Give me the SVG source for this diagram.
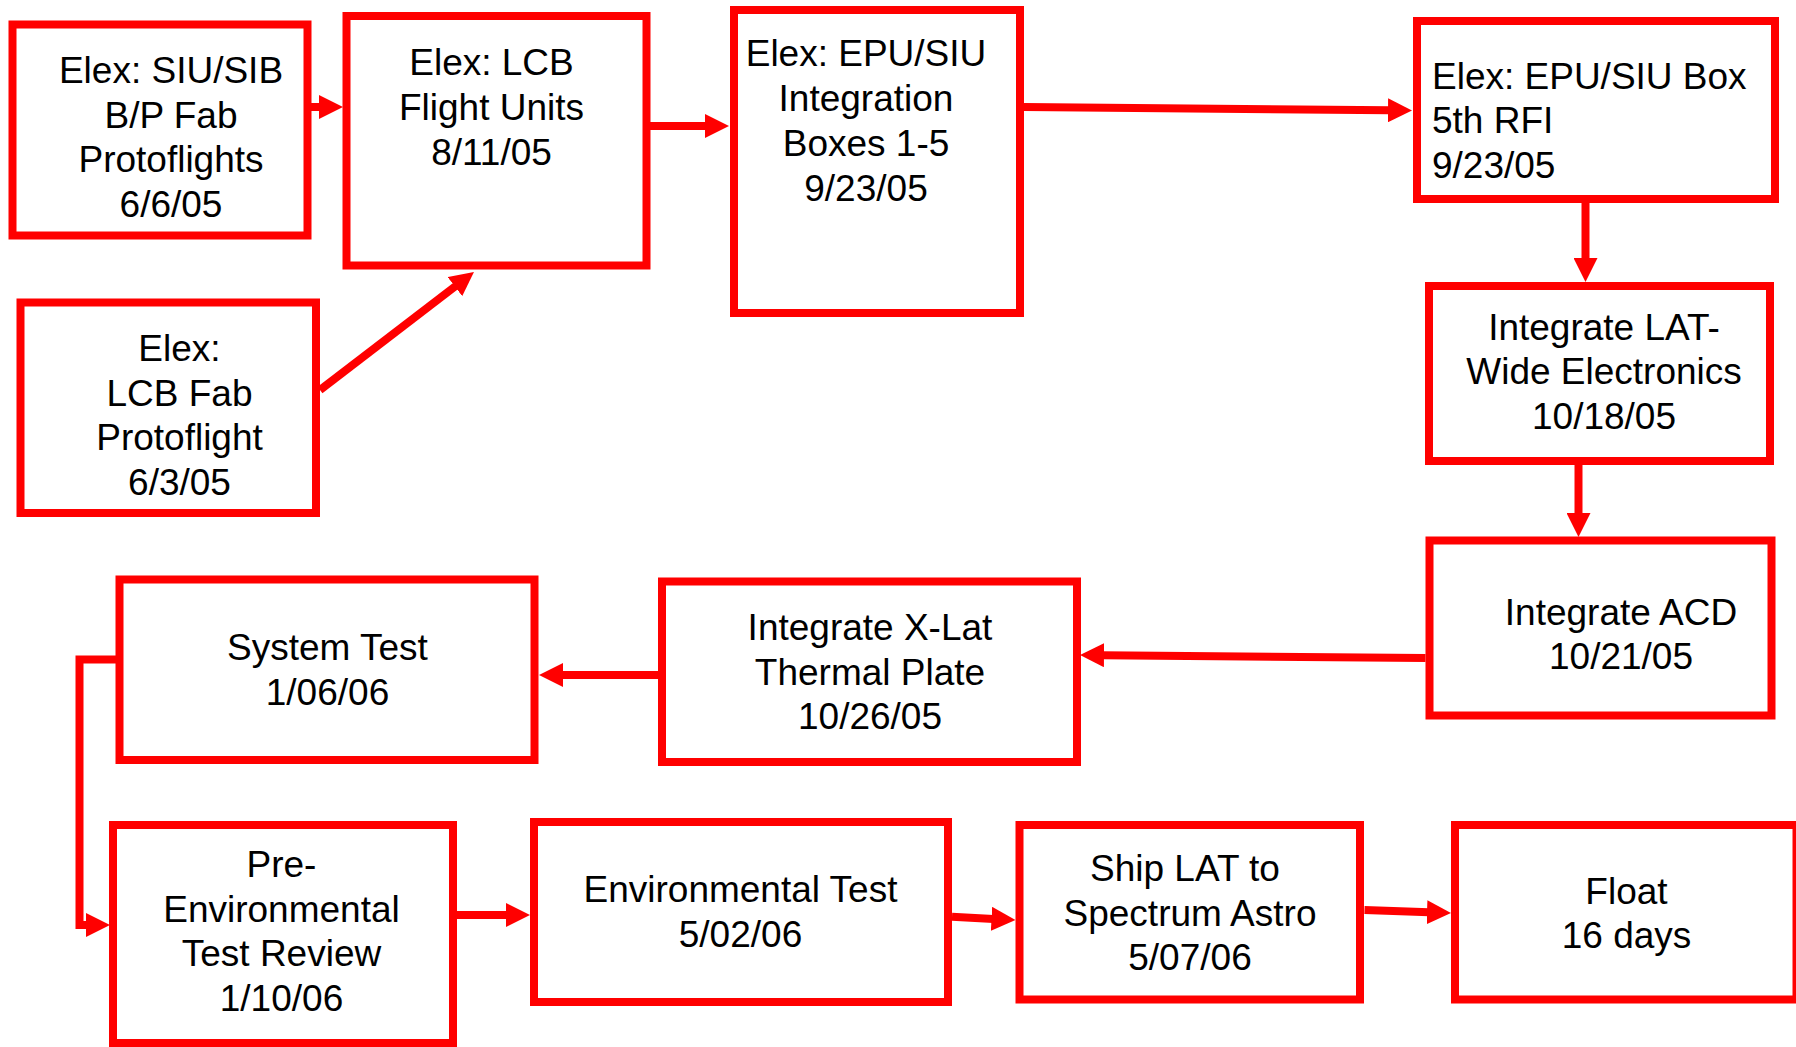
<svg xmlns="http://www.w3.org/2000/svg" width="1796" height="1047" viewBox="0 0 1796 1047">
<style>
.box{fill:#fff;stroke:#ff0000;stroke-width:8}
.t{font-family:"Liberation Sans",Arial,sans-serif;font-size:37px;fill:#000;text-anchor:middle}
.tl{font-family:"Liberation Sans",Arial,sans-serif;font-size:37px;fill:#000;text-anchor:start}
.c{fill:none;stroke:#ff0000;stroke-width:8;marker-end:url(#ah)}
</style>
<defs>
<marker id="ah" viewBox="0 0 24 24" refX="2" refY="12" markerWidth="24" markerHeight="24" markerUnits="userSpaceOnUse" orient="auto">
<path d="M0,0 L24,12 L0,24 Z" fill="#ff0000"/>
</marker>
</defs>
<rect width="1796" height="1047" fill="#fff"/>
<g id="n1"><rect class="box" x="12.5" y="24.5" width="295" height="211"/>
<text class="t" x="171" y="83">Elex: SIU/SIB</text><text class="t" x="171" y="127.5">B/P Fab</text><text class="t" x="171" y="172">Protoflights</text><text class="t" x="171" y="216.5">6/6/05</text></g>
<g id="n2"><rect class="box" x="346.5" y="16" width="300" height="249.5"/>
<text class="t" x="491.5" y="75">Elex: LCB</text><text class="t" x="491.5" y="120">Flight Units</text><text class="t" x="491.5" y="164.5">8/11/05</text></g>
<g id="n3"><rect class="box" x="20.5" y="302.5" width="295.5" height="210.5"/>
<text class="t" x="179.5" y="361">Elex:</text><text class="t" x="179.5" y="405.5">LCB Fab</text><text class="t" x="179.5" y="450">Protoflight</text><text class="t" x="179.5" y="494.5">6/3/05</text></g>
<g id="n4"><rect class="box" x="734" y="10" width="286" height="303"/>
<text class="t" x="866" y="66">Elex: EPU/SIU</text><text class="t" x="866" y="111">Integration</text><text class="t" x="866" y="156">Boxes 1-5</text><text class="t" x="866" y="201">9/23/05</text></g>
<g id="n5"><rect class="box" x="1417" y="21" width="358" height="178"/>
<text class="tl" x="1432" y="88.5">Elex: EPU/SIU Box</text><text class="tl" x="1432" y="132.5">5th RFI</text><text class="tl" x="1432" y="177.5">9/23/05</text></g>
<g id="n6"><rect class="box" x="1429" y="286" width="341" height="175"/>
<text class="t" x="1604" y="339.5">Integrate LAT-</text><text class="t" x="1604" y="384">Wide Electronics</text><text class="t" x="1604" y="428.5">10/18/05</text></g>
<g id="n7"><rect class="box" x="1429.5" y="540.5" width="342" height="175"/>
<text class="t" x="1621" y="625">Integrate ACD</text><text class="t" x="1621" y="669">10/21/05</text></g>
<g id="n8"><rect class="box" x="662" y="581.5" width="415" height="180.5"/>
<text class="t" x="870" y="640">Integrate X-Lat</text><text class="t" x="870" y="684.5">Thermal Plate</text><text class="t" x="870" y="729">10/26/05</text></g>
<g id="n9"><rect class="box" x="119.5" y="579.5" width="415" height="180.5"/>
<text class="t" x="327.5" y="660">System Test</text><text class="t" x="327.5" y="705">1/06/06</text></g>
<g id="n10"><rect class="box" x="113" y="825" width="340" height="218"/>
<text class="t" x="281.5" y="876.5">Pre-</text><text class="t" x="281.5" y="921.5">Environmental</text><text class="t" x="281.5" y="966">Test Review</text><text class="t" x="281.5" y="1010.5">1/10/06</text></g>
<g id="n11"><rect class="box" x="534" y="822" width="414" height="180"/>
<text class="t" x="740.5" y="901.5">Environmental Test</text><text class="t" x="740.5" y="946.5">5/02/06</text></g>
<g id="n12"><rect class="box" x="1019.5" y="825" width="340.5" height="174.5"/>
<text class="t" x="1185" y="880.5">Ship LAT to</text><text class="t" x="1190" y="925.5">Spectrum Astro</text><text class="t" x="1190" y="970">5/07/06</text></g>
<g id="n13"><rect class="box" x="1455" y="825" width="341.5" height="174.5"/>
<text class="t" x="1626.5" y="903.5">Float</text><text class="t" x="1626.5" y="947.5">16 days</text></g>
<g id="connectors">
<path class="c" d="M311,107 L321,107"/>
<path class="c" d="M650,126 L707,126"/>
<path class="c" d="M320,390 L456.5,285.4"/>
<path class="c" d="M1024,107 L1390,110.3"/>
<path class="c" d="M1585.5,203 L1585.5,260"/>
<path class="c" d="M1578.5,465 L1578.5,515"/>
<path class="c" d="M1425.5,658 L1102,655.2"/>
<path class="c" d="M658,675 L561,675"/>
<path class="c" d="M119.5,659.5 H79.5 V925 H88"/>
<path class="c" d="M457,915 L508,915"/>
<path class="c" d="M952,916.7 L993.5,918.9"/>
<path class="c" d="M1364.5,910 L1429,912.2"/>
</g>
</svg>
